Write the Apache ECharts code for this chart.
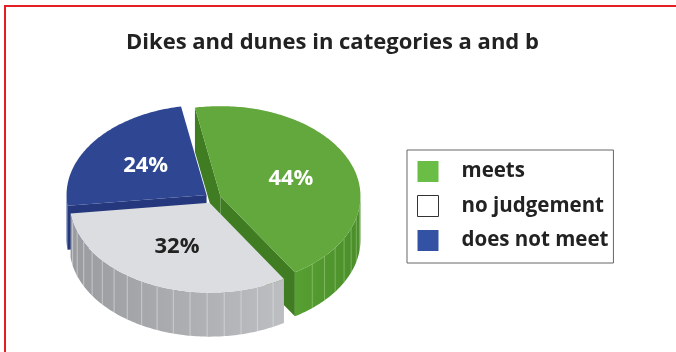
<!DOCTYPE html>
<html><head><meta charset="utf-8">
<script src="https://cdn.jsdelivr.net/npm/echarts@6/dist/echarts.min.js"></script>
<style>html,body{margin:0;padding:0;background:#fff}#c{width:676px;height:352px}</style>
</head><body><div id="c"></div>
<script>
const titleText = 'Dikes and dunes in categories a and b';
const categories = ['meets', 'no judgement', 'does not meet'];
const shares = [44, 32, 24];

// styles (kept separate from data)
const topColors = ['#63a83d', '#dcdde0', '#2f4793'];
const sideColors = [['#57a032', '#4a8d2a'], ['#9a9b9f', '#bdbec1'], ['#2b4189', '#2b4189']];
const faceColors = ['#3f7c22', '#8e8f93', '#25387d'];
const facetColors = ['rgba(170,215,140,0.5)', 'rgba(225,226,229,0.6)', 'rgba(120,140,200,0.4)'];
const labelColors = ['#ffffff', '#222222', '#ffffff'];
const legendColors = ['#6abd45', '#ffffff', '#3352a3'];
const drawOrder = [3, 4, 2];
const FONT = '"Open Sans"';

const geo = {cx: 213, cy: 198, rx: 140, ry: 90, depth: 44, explode: 8, start: -100.5, labelR: 0.54, facet: 7};

const total = shares.reduce((a, b) => a + b, 0);
const starts = [];
(function () { let acc = geo.start; shares.forEach(s => { starts.push(acc); acc += s / total * 360; }); })();

function rim(ox, oy, deg, f, dy) {
  const r = deg * Math.PI / 180;
  return [ox + f * geo.rx * Math.cos(r), oy + f * geo.ry * Math.sin(r) + (dy || 0)];
}
function arc(ox, oy, a, b, dy) {
  const pts = [];
  const n = Math.max(2, Math.ceil(Math.abs(b - a)));
  for (let k = 0; k <= n; k++) pts.push(rim(ox, oy, a + (b - a) * k / n, 1, dy));
  return pts;
}

function makeRender(i) {
  return function (params, api) {
    const value = api.value(0);
    const a0 = starts[i], a1 = a0 + value / total * 360;
    const midDeg = (a0 + a1) / 2, mid = midDeg * Math.PI / 180;
    const ox = geo.cx + geo.explode * Math.cos(mid);
    const oy = geo.cy + geo.explode * geo.ry / geo.rx * Math.sin(mid);
    const D = geo.depth;
    const children = [];
    // radial faces
    const faces = [];
    if (Math.cos(a0 * Math.PI / 180) < 0) faces.push(a0);
    if (Math.cos(a1 * Math.PI / 180) > 0) faces.push(a1);
    faces.forEach(a => {
      const p = rim(ox, oy, a, 1);
      children.push({type: 'polygon', shape: {points: [[ox, oy], p, [p[0], p[1] + D], [ox, oy + D]]},
        style: {fill: faceColors[i]}});
    });
    // outer side (front half only)
    [[-360, -180], [0, 180], [360, 540]].forEach(rg => {
      const s = Math.max(a0, rg[0]), e = Math.min(a1, rg[1]);
      if (e - s <= 0.01) return;
      const topArc = arc(ox, oy, s, e, 0);
      const botArc = arc(ox, oy, s, e, D).reverse();
      children.push({type: 'polygon', shape: {points: topArc.concat(botArc)},
        style: {fill: new echarts.graphic.LinearGradient(0, 0, 1, 0, [
          {offset: 0, color: sideColors[i][0]}, {offset: 1, color: sideColors[i][1]}])}});
      for (let k = Math.ceil(s / geo.facet) * geo.facet; k < e; k += geo.facet) {
        if (k - s < 2 || e - k < 2) continue;
        const p = rim(ox, oy, k, 1);
        children.push({type: 'line', shape: {x1: p[0], y1: p[1], x2: p[0], y2: p[1] + D},
          style: {stroke: facetColors[i], lineWidth: 1}});
      }
    });
    // top face
    const topPts = [[ox, oy]].concat(arc(ox, oy, a0, a1, 0));
    children.push({type: 'polygon', shape: {points: topPts}, style: {fill: topColors[i]}});
    // label
    const lp = rim(ox, oy, midDeg, geo.labelR);
    children.push({type: 'text', style: {text: value + '%', x: lp[0], y: lp[1], fill: labelColors[i],
      font: 'bold 22px ' + FONT, align: 'center', verticalAlign: 'middle'}});
    return {type: 'group', children};
  };
}

const chart = echarts.init(document.getElementById('c'), null, {renderer: 'canvas'});
chart.setOption({
  animation: false,
  backgroundColor: '#ffffff',
  title: {
    text: titleText, left: 126, top: 30, padding: 0,
    textStyle: {fontFamily: FONT, fontWeight: 'bold', fontSize: 22, color: '#222', lineHeight: 26}
  },
  legend: {
    orient: 'vertical', left: 407, top: 150, selectedMode: false,
    icon: 'rect', itemWidth: 21, itemHeight: 21, itemGap: 13,
    padding: [11, 5, 12, 10], borderColor: '#666', borderWidth: 1,
    data: categories.map((c, i) => ({name: c, itemStyle: i === 1 ?
      {color: legendColors[i], borderColor: '#333', borderWidth: 1} : {color: legendColors[i]}})),
    textStyle: {fontFamily: FONT, fontWeight: 'bold', fontSize: 20.5, color: '#222',
      padding: [0, 0, 0, 18], lineHeight: 21}
  },
  graphic: [
    {type: 'rect', left: 4, top: 5, shape: {width: 2, height: 347}, style: {fill: '#e31e24'}, silent: true},
    {type: 'rect', left: 4, top: 5, shape: {width: 672, height: 2}, style: {fill: '#e31e24'}, silent: true}
  ],
  series: categories.map((name, i) => ({
    type: 'custom', name, coordinateSystem: 'none', z: drawOrder[i], silent: true,
    itemStyle: {color: topColors[i]},
    data: [[shares[i]]],
    renderItem: makeRender(i)
  }))
});
</script>
</body></html>
